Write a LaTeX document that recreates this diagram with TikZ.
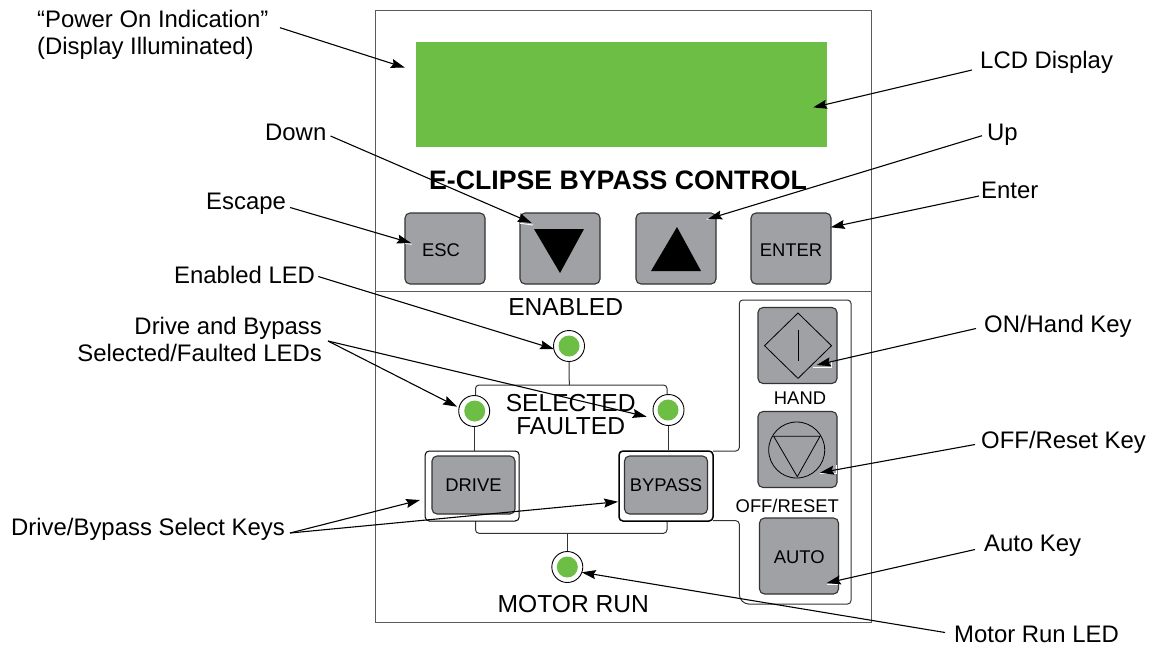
\documentclass[tikz,border=0pt]{standalone}
\usepackage{fontspec}
\setmainfont{Liberation Sans}
\usetikzlibrary{arrows.meta,shapes.geometric}
\definecolor{lcdgreen}{HTML}{6CBE45}
\definecolor{keygray}{HTML}{9FA1A4}
\definecolor{panelline}{HTML}{5A5A5A}
\definecolor{keyline}{HTML}{333333}
\tikzset{
  x=1pt,y=-1pt,
  lab/.style={inner sep=0pt,anchor=base west,text height=16pt,text depth=5pt,font=\fontsize{23.9}{26.7}\selectfont},
  multilab/.style={inner sep=0pt,font=\fontsize{23.9}{26.7}\selectfont},
  panellab/.style={inner sep=0pt,font=\fontsize{24.6}{27}\selectfont},
  keylab/.style={inner sep=0pt,font=\fontsize{18.4}{22}\selectfont},
  keybox/.style={draw=keyline,fill=keygray,line width=1.1pt,rounded corners=5pt,inner sep=0pt,font=\fontsize{18.4}{22}\selectfont},
  led/.style={circle,draw=black,fill=white,line width=0.9pt,minimum size=31pt,inner sep=0pt},
  ledcore/.style={circle,fill=lcdgreen,minimum size=21pt,inner sep=0pt},
  wire/.style={draw=black!80,line width=1pt,rounded corners=3.5pt},
  holder/.style={draw=black,fill=white,line width=1pt,rounded corners=4pt,inner sep=0pt},
  callout/.style={draw=black,line width=1.1pt,-{Stealth[length=14pt,width=9pt,inset=2pt]},shorten >=0pt},
  glint/.style={draw=white,line width=0.9pt},
}
\begin{document}
\begin{tikzpicture}
\useasboundingbox (0,0) rectangle (1153,646);
\fill[white] (0,0) rectangle (1153,646);
% panel
\node[draw=panelline,line width=0.9pt,minimum width=496pt,minimum height=612pt,inner sep=0pt] (panel) at (623,316) {};
\draw[draw=panelline,line width=0.9pt] (375,291) -- (871,291);
\node[fill=lcdgreen,minimum width=411pt,minimum height=105pt,inner sep=0pt] (lcd) at (621.5,94.5) {};
\node[inner sep=0pt,font=\bfseries\fontsize{26.7}{30}\selectfont] (title) at (618,180.5) {E-CLIPSE BYPASS CONTROL};
% top keys
\node[keybox,minimum width=80pt,minimum height=71pt] (esc) at (445,248.5) {};
\node[keylab] (tEsc) at (441,250.5) {ESC};
\node[keybox,minimum width=80pt,minimum height=71pt] (down) at (560,248.5) {};
\node[keybox,minimum width=80pt,minimum height=71pt] (up) at (676,248.5) {};
\node[keybox,minimum width=80pt,minimum height=71pt] (enter) at (791,248.5) {};
\node[keylab] (tEnter) at (791,250.5) {ENTER};
\fill[black] (534,229) -- (584,229) -- (560,273) -- cycle;
\fill[black] (651,271) -- (701,271) -- (677,227) -- cycle;
% wires
\coordinate (brkL) at (475.5,385);
\coordinate (brkR) at (667,385);
\coordinate (brkM) at (569.3,385);
\draw[wire] (475.5,396) -- (brkL) -- (brkR) -- (667,396);
\draw[wire] (475.5,520) -- (475.5,533.3) -- (667,533.3) -- (667,520);
\draw[wire] (713,451) -- (739.3,451) -- (739.3,300) -- (851,300) -- (851,604) -- (745,604) -- (739.3,598) -- (739.3,520.7) -- (713,520.7);
% leds
\node[led] (ledE) at (569,346) {};
\node[ledcore] (ledEc) at (569,346) {};
\node[led] (ledD) at (474.2,411) {};
\node[ledcore] (ledDc) at (474.7,411) {};
\node[led] (ledB) at (668.5,410) {};
\node[ledcore] (ledBc) at (668,410) {};
\node[led] (ledM) at (567.3,567) {};
\node[ledcore] (ledMc) at (567.3,567) {};
% drive/bypass
\node[holder,minimum width=94pt,minimum height=70pt] (driveO) at (472.2,486) {};
\node[holder,line width=1.5pt,minimum width=94pt,minimum height=70pt] (bypassO) at (666,486) {};
\node[keybox,minimum width=83pt,minimum height=58pt] (drive) at (473.5,485) {DRIVE};
\node[keybox,minimum width=83pt,minimum height=58pt] (bypass) at (666,485) {BYPASS};
\draw[wire] (ledE.south) -- (brkM);
\draw[wire] (ledD.south) -- (ledD.south |- driveO.north);
\draw[wire] (ledB.south) -- (ledB.south |- bypassO.north);
\draw[wire] (567.3,533.3) -- (ledM.north);
% panel labels
\node[panellab] (tEn) at (565.7,307.5) {ENABLED};
\node[panellab] (tSel) at (570.7,402.8) {SELECTED};
\node[panellab] (tFau) at (570.7,426.2) {FAULTED};
\node[panellab] (tMot) at (573.3,604) {MOTOR RUN};
% right keys
\node[keybox,minimum width=79pt,minimum height=76pt] (hand) at (797.5,345.5) {};
\node[keybox,minimum width=79pt,minimum height=76pt] (off) at (797.5,449.5) {};
\node[keybox,minimum width=79pt,minimum height=76pt] (auto) at (799,556) {};
\node[keylab] (tAuto) at (799.3,557.5) {AUTO};
\node[keylab] (tHand) at (800,397.7) {HAND};
\node[keylab] (tOff) at (787.3,506) {OFF/RESET};
\draw[black,line width=0.8pt] (798,313) -- (831.5,345.7) -- (798,378.4) -- (764.5,345.7) -- cycle;
\draw[black,line width=0.8pt] (798,330) -- (798,360.7);
\draw[black,line width=0.8pt] (796.7,450) circle (28);
\draw[black,line width=0.8pt] (773.7,436.3) -- (820,436.3) -- (797.3,476.7) -- cycle;
% small white glints beside the arrow tips
\draw[glint] (520,223.3) -- (533,225);
\draw[glint] (706.7,219.3) -- (715,218.3);
\draw[glint] (405,243.3) -- (411.7,244.3);
\draw[glint] (813,107.7) -- (827,107.7);
\draw[glint] (813.3,367.3) -- (831.7,367.3) -- (831.7,361.7);
\draw[glint] (820,473.3) -- (836.7,473.3) -- (836.7,465);
\draw[glint] (826.7,584) -- (838.3,584);
% outside labels
\node[multilab,align=left,anchor=north west] (lPower) at (37,10) {“Power On Indication”\\(Display Illuminated)};
\node[lab] (lLcd) at (980,68) {LCD Display};
\node[lab] (lDown) at (265,140) {Down};
\node[lab] (lUp) at (987,140) {Up};
\node[lab] (lEsc) at (206,209) {Escape};
\node[lab] (lEnter) at (981,198) {Enter};
\node[lab] (lEnLed) at (174,283) {Enabled LED};
\node[multilab,align=right,anchor=north east] (lDB) at (322,317) {Drive and Bypass\\Selected/Faulted LEDs};
\node[lab] (lSel) at (11,535) {Drive/Bypass Select Keys};
\node[lab] (lOn) at (984,332) {ON/Hand Key};
\node[lab] (lOff) at (981,448) {OFF/Reset Key};
\node[lab] (lAuto) at (984,551) {Auto Key};
\node[lab] (lMot) at (954,642) {Motor Run LED};
% callout ends
\coordinate (pPower) at (280,27.7);
\coordinate (pDB) at (328,341);
\coordinate (pSel) at (290,533);
\draw[callout] (pPower) -- (405,67.7);
\draw[callout] ([shift={(-8,7.5)}]lLcd.west) -- (813,107.5);
\draw[callout] ([shift={(4,1.5)}]lDown.east) -- (531.7,223);
\draw[callout] ([shift={(-5,1.2)}]lUp.west) -- (708,219);
\draw[callout] ([shift={(4,4)}]lEsc.east) -- (411,243);
\draw[callout] ([shift={(-2,3.5)}]lEnter.west) -- (830.7,227.3);
\draw[callout] ([shift={(3,-1)}]lEnLed.east) -- (554,349);
\draw[callout] (pDB) -- (457,406.7);
\draw[callout] (pDB) -- (646.7,416.7);
\draw[callout] (pSel) -- (420,500);
\draw[callout] (pSel) -- (618,501.7);
\draw[callout] ([shift={(-8,2)}]lOn.west) -- (816.7,365);
\draw[callout] ([shift={(-6,2)}]lOff.west) -- (820,472.7);
\draw[callout] ([shift={(-9,4)}]lAuto.west) -- (826.7,583);
\draw[callout] ([shift={(-9,-4)}]lMot.west) -- (581.7,572.3);
\end{tikzpicture}
\end{document}
